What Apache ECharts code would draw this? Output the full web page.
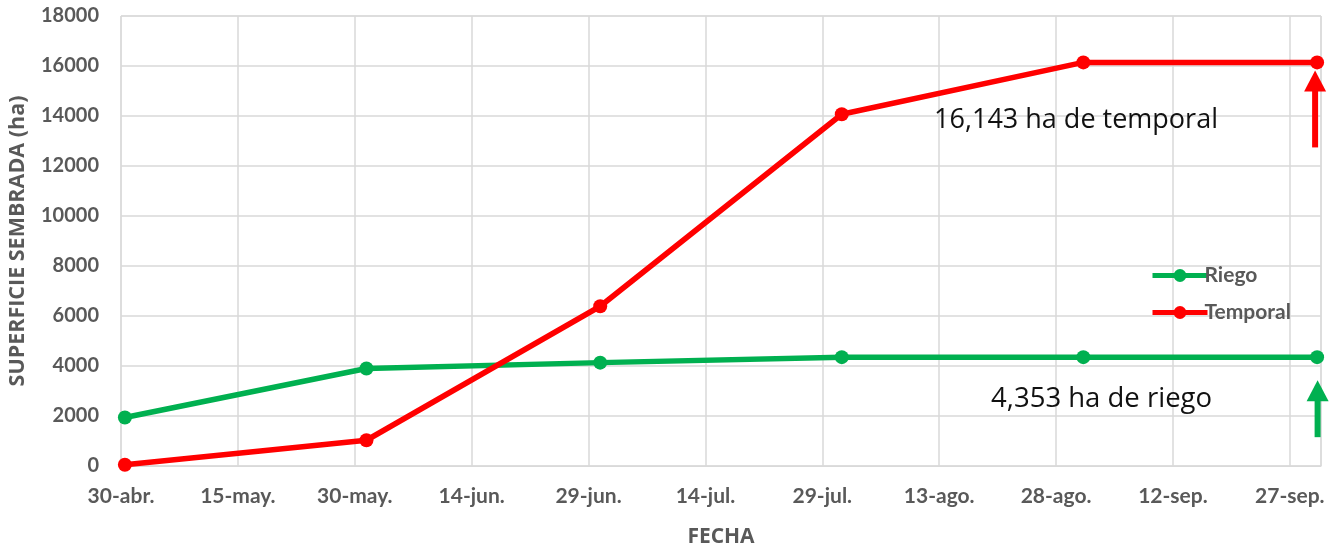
<!DOCTYPE html>
<html>
<head>
<meta charset="utf-8">
<script src="https://cdn.jsdelivr.net/npm/echarts@6/dist/echarts.min.js"></script>
<style>
html,body{margin:0;padding:0;background:#fff;}
#chart{width:1343px;height:547px;}
</style>
</head>
<body>
<div id="chart"></div>
<script>
// ---- data ----
const startDate = '2021-04-30';
const dates = ['2021-04-30','2021-05-31','2021-06-30','2021-07-31','2021-08-31','2021-09-30'];
const riego = [1940, 3900, 4135, 4353, 4353, 4353];
const temporal = [50, 1030, 6390, 14070, 16143, 16143];
const tickLabels = ['30-abr.','15-may.','30-may.','14-jun.','29-jun.','14-jul.','29-jul.','13-ago.','28-ago.','12-sep.','27-sep.'];
const seriesNames = ['Riego','Temporal'];
const noteTemporal = '16,143 ha de temporal';
const noteRiego = '4,353 ha de riego';

const DAY = 86400000;
function dayOffset(d){ return (Date.parse(d) - Date.parse(startDate)) / DAY + 0.5; }
const xs = dates.map(dayOffset);
const riegoData = xs.map((x,i)=>[x, riego[i]]);
const tempData = xs.map((x,i)=>[x, temporal[i]]);

const GREEN = '#00B050', RED = '#FF0000', TXT = '#595959', GRID = '#D9D9D9';
const FONT = 'Lato';

const chart = echarts.init(document.getElementById('chart'));
chart.setOption({
  animation:false,
  backgroundColor:'#fff',
  grid:{left:121, right:22, top:16, bottom:81, containLabel:false, outerBoundsMode:'none',
        show:true, borderColor:GRID, borderWidth:1},
  xAxis:{
    type:'value', min:0, max:154, interval:15,
    name:'FECHA', nameLocation:'middle', nameGap:61,
    nameTextStyle:{color:TXT, fontFamily:'Open Sans', fontWeight:'bold', fontSize:21},
    axisLine:{show:true, lineStyle:{color:GRID, width:1}},
    axisTick:{show:false},
    splitLine:{show:true, lineStyle:{color:GRID, width:1.5}},
    axisLabel:{color:TXT, fontFamily:FONT, fontWeight:'bold', fontSize:21, margin:20,
      formatter:v=>{const i=Math.round(v/15); return (Math.abs(v-i*15)<1e-6 && tickLabels[i])?tickLabels[i]:'';}}
  },
  yAxis:{
    type:'value', min:0, max:18000, interval:2000,
    name:'SUPERFICIE SEMBRADA (ha)', nameLocation:'middle', nameGap:92,
    nameTextStyle:{color:TXT, fontFamily:'Open Sans', fontWeight:'bold', fontSize:21.5},
    axisLine:{show:false}, axisTick:{show:false},
    splitLine:{lineStyle:{color:GRID, width:1.5}},
    axisLabel:{color:TXT, fontFamily:FONT, fontWeight:'bold', fontSize:20, margin:22,
      formatter:v=>String(v)}
  },
  legend:{
    orient:'vertical', left:1145, top:260, itemGap:16,
    itemWidth:55, itemHeight:16,
    lineStyle:{width:5},
    textStyle:{color:TXT, fontFamily:FONT, fontWeight:'bold', fontSize:21, padding:[0,0,0,-8]},
    data:seriesNames
  },
  series:[
    {name:seriesNames[0], type:'line', data:riegoData, symbol:'circle', symbolSize:14,
     lineStyle:{color:GREEN, width:5.5}, itemStyle:{color:GREEN}, z:3},
    {name:seriesNames[1], type:'line', data:tempData, symbol:'circle', symbolSize:14,
     lineStyle:{color:RED, width:5.5}, itemStyle:{color:RED}, z:4}
  ]
});

// annotations anchored to the last data points
const lastT = chart.convertToPixel({gridIndex:0}, tempData[tempData.length-1]);
const lastR = chart.convertToPixel({gridIndex:0}, riegoData[riegoData.length-1]);
function arrow(px, tipY, baseY, color){
  return [
    {type:'line', shape:{x1:px, y1:tipY+18, x2:px, y2:baseY}, style:{stroke:color, lineWidth:6}, z:10},
    {type:'polygon', shape:{points:[[px,tipY],[px-11,tipY+21],[px+11,tipY+21]]}, style:{fill:color}, z:10}
  ];
}
chart.setOption({
  graphic:[
    ...arrow(lastT[0]-2, lastT[1]+8, lastT[1]+85, RED),
    ...arrow(lastR[0]+0.5, lastR[1]+23, lastR[1]+80, GREEN),
    {type:'text', x:lastT[0]-383, y:lastT[1]+58, style:{text:noteTemporal, fill:'#111', font:'27px "Open Sans"', textVerticalAlign:'middle'}, z:10},
    {type:'text', x:lastR[0]-326, y:lastR[1]+42, style:{text:noteRiego, fill:'#111', font:'27.5px "Open Sans"', textVerticalAlign:'middle'}, z:10}
  ]
});
</script>
</body>
</html>
